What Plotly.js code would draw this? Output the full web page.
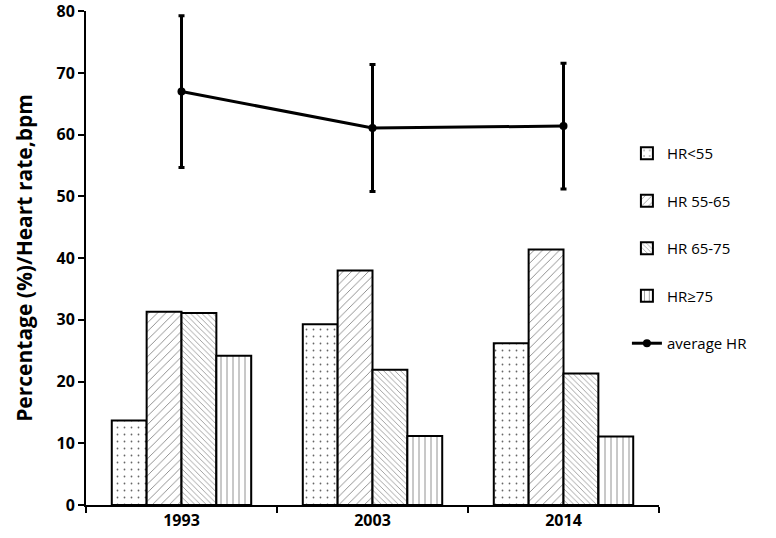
<!DOCTYPE html>
<html>
<head>
<meta charset="utf-8">
<script src="https://cdn.plot.ly/plotly-3.0.1.min.js"></script>
<style>body{margin:0;background:#fff}#plot{width:776px;height:538px}</style>
</head>
<body>
<div id="plot"></div>
<script>
// values
var years = ["1993", "2003", "2014"];
var hrBelow55 = [13.7, 29.3, 26.2];
var hr55to65 = [31.3, 38.0, 41.4];
var hr65to75 = [31.1, 21.9, 21.3];
var hrAbove75 = [24.2, 11.2, 11.1];
var avgHR = [67.0, 61.1, 61.4];
var avgHRsd = [12.3, 10.3, 10.2];

function barTrace(y, name, shape, size, solidity, group) {
    return {
        x: years,
        y: y,
        name: name,
        type: "bar",
        legendgroup: group,
        marker: {
            color: "white",
            line: {color: "black", width: 2},
            pattern: {shape: shape, fgcolor: "#666", bgcolor: "white", size: size, solidity: solidity}
        }
    };
}

var trace1 = barTrace(hrBelow55, "HR<55", ".", 7, 0.05, "g1");
var trace2 = barTrace(hr55to65, "HR 55-65", "/", 6, 0.12, "g2");
var trace3 = barTrace(hr65to75, "HR 65-75", "\\", 4, 0.15, "g3");
var trace4 = barTrace(hrAbove75, "HR≥75", "|", 6, 0.12, "g4");

var trace5 = {
    x: years,
    y: avgHR,
    name: "average HR",
    type: "scatter",
    mode: "lines+markers",
    legendgroup: "g5",
    line: {color: "black", width: 3},
    marker: {color: "black", size: 8},
    error_y: {type: "data", array: avgHRsd, visible: true, color: "black", thickness: 3, width: 3}
};

var traceData = [trace1, trace2, trace3, trace4, trace5];

var layout = {
    width: 776,
    height: 538,
    margin: {l: 86, r: 117, t: 11, b: 33},
    paper_bgcolor: "white",
    plot_bgcolor: "white",
    font: {family: "Open Sans, Noto Sans, sans-serif", color: "black"},
    barmode: "group",
    bargap: 0.27,
    bargroupgap: 0,
    showlegend: true,
    legend: {
        x: 0.944, xanchor: "left", y: 0.745, yanchor: "top",
        font: {size: 15},
        tracegroupgap: 25,
        traceorder: "grouped"
    },
    xaxis: {
        type: "category",
        range: [-0.5, 2.5],
        showline: true,
        linecolor: "black",
        linewidth: 2,
        ticks: "outside",
        tickson: "boundaries",
        ticklen: 6,
        tickwidth: 2,
        tickcolor: "black",
        tickfont: {size: 16, weight: "bold"},
        showgrid: false,
        zeroline: false
    },
    yaxis: {
        range: [0, 80.05],
        tickvals: [0, 10, 20, 30, 40, 50, 60, 70, 80],
        ticklabeloverflow: "allow",
        showline: true,
        linecolor: "black",
        linewidth: 2,
        ticks: "outside",
        ticklen: 6,
        tickwidth: 2,
        tickcolor: "black",
        tickfont: {size: 16, weight: "bold"},
        showgrid: false,
        zeroline: false,
        title: {text: "Percentage (%)/Heart rate,bpm", font: {size: 21, weight: "bold"}, standoff: 18}
    }
};

Plotly.newPlot("plot", traceData, layout, {displayModeBar: false});
</script>
</body>
</html>
